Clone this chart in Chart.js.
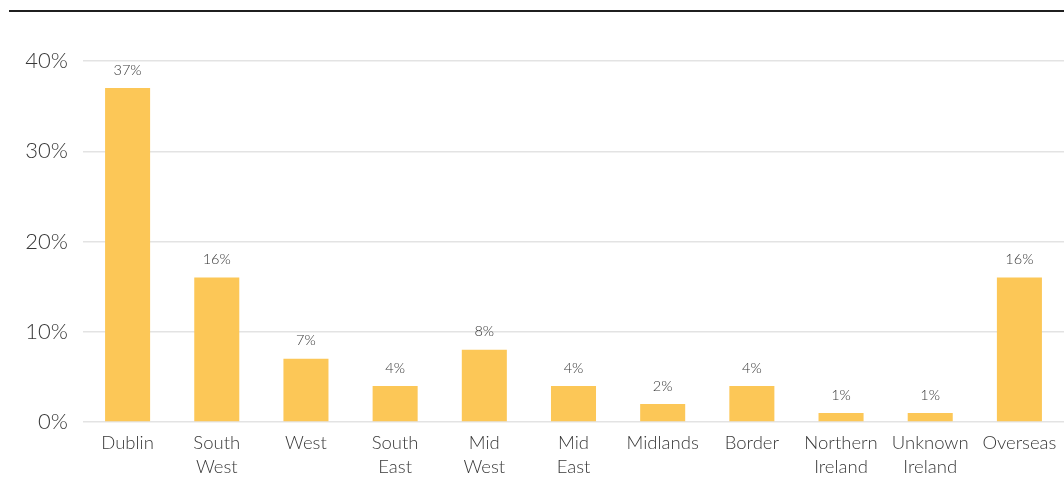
<!DOCTYPE html>
<html>
<head>
<meta charset="utf-8">
<script src="https://cdn.jsdelivr.net/npm/chart.js@4"></script>
<style>
  html, body { margin: 0; padding: 0; background: #fff; }
  #wrap { position: relative; width: 1064px; height: 504px; }
  #rule { position: absolute; left: 9px; right: 0; top: 10px; height: 2px; background: #1f1f1f; }
  canvas { position: absolute; left: 0; top: 0; }
</style>
</head>
<body>
<div id="wrap">
  <div id="rule"></div>
  <canvas id="c" width="1064" height="504"></canvas>
</div>
<script>
// Share of respondents by region (%)
const regions = [
  ['Dublin'], ['South', 'West'], ['West'], ['South', 'East'], ['Mid', 'West'],
  ['Mid', 'East'], ['Midlands'], ['Border'], ['Northern', 'Ireland'],
  ['Unknown', 'Ireland'], ['Overseas']
];
const shares = [37, 16, 7, 4, 8, 4, 2, 4, 1, 1, 16];
const yTicks = [0, 10, 20, 30, 40];

const FONT = 'Lato, "Open Sans", sans-serif';
const TEXT = '#383838';

// Writes each bar's value just above it
const valueLabels = {
  id: 'valueLabels',
  afterDatasetsDraw(chart) {
    const { ctx } = chart;
    const meta = chart.getDatasetMeta(0);
    ctx.save();
    ctx.font = '300 14.5px ' + FONT;
    ctx.fillStyle = TEXT;
    ctx.textAlign = 'center';
    ctx.textBaseline = 'middle';
    meta.data.forEach((bar, i) => {
      ctx.fillText(shares[i] + '%', bar.x, bar.y - 18);
    });
    ctx.restore();
  }
};

new Chart(document.getElementById('c'), {
  type: 'bar',
  data: {
    labels: regions,
    datasets: [{
      data: shares,
      backgroundColor: '#FCC757',
      borderWidth: 0,
      categoryPercentage: 1.0,
      barPercentage: 0.505
    }]
  },
  options: {
    responsive: false,
    animation: false,
    layout: { padding: { top: 0, right: 0, left: 0, bottom: 0 } },
    plugins: { legend: { display: false }, tooltip: { enabled: false } },
    scales: {
      x: {
        grid: { display: false },
        border: { display: false },
        ticks: {
          color: TEXT,
          font: { family: FONT, size: 18.5, weight: 300, lineHeight: 1.3 },
          padding: 1,
          maxRotation: 0,
          autoSkip: false
        },
        afterFit(scale) { scale.height = 82; }
      },
      y: {
        min: 0,
        max: 40,
        afterBuildTicks(scale) { scale.ticks = yTicks.map(v => ({ value: v })); },
        grid: { color: '#e3e3e3', lineWidth: 1.5, drawTicks: false },
        border: { display: false },
        ticks: {
          color: TEXT,
          font: { family: FONT, size: 22, weight: 300 },
          padding: 15,
          callback: v => v + '%'
        },
        afterFit(scale) { scale.width = 83; }
      }
    }
  },
  plugins: [valueLabels, {
    id: 'topSpace',
    beforeLayout(chart) { chart.options.layout.padding.top = 61; }
  }]
});
</script>
</body>
</html>
